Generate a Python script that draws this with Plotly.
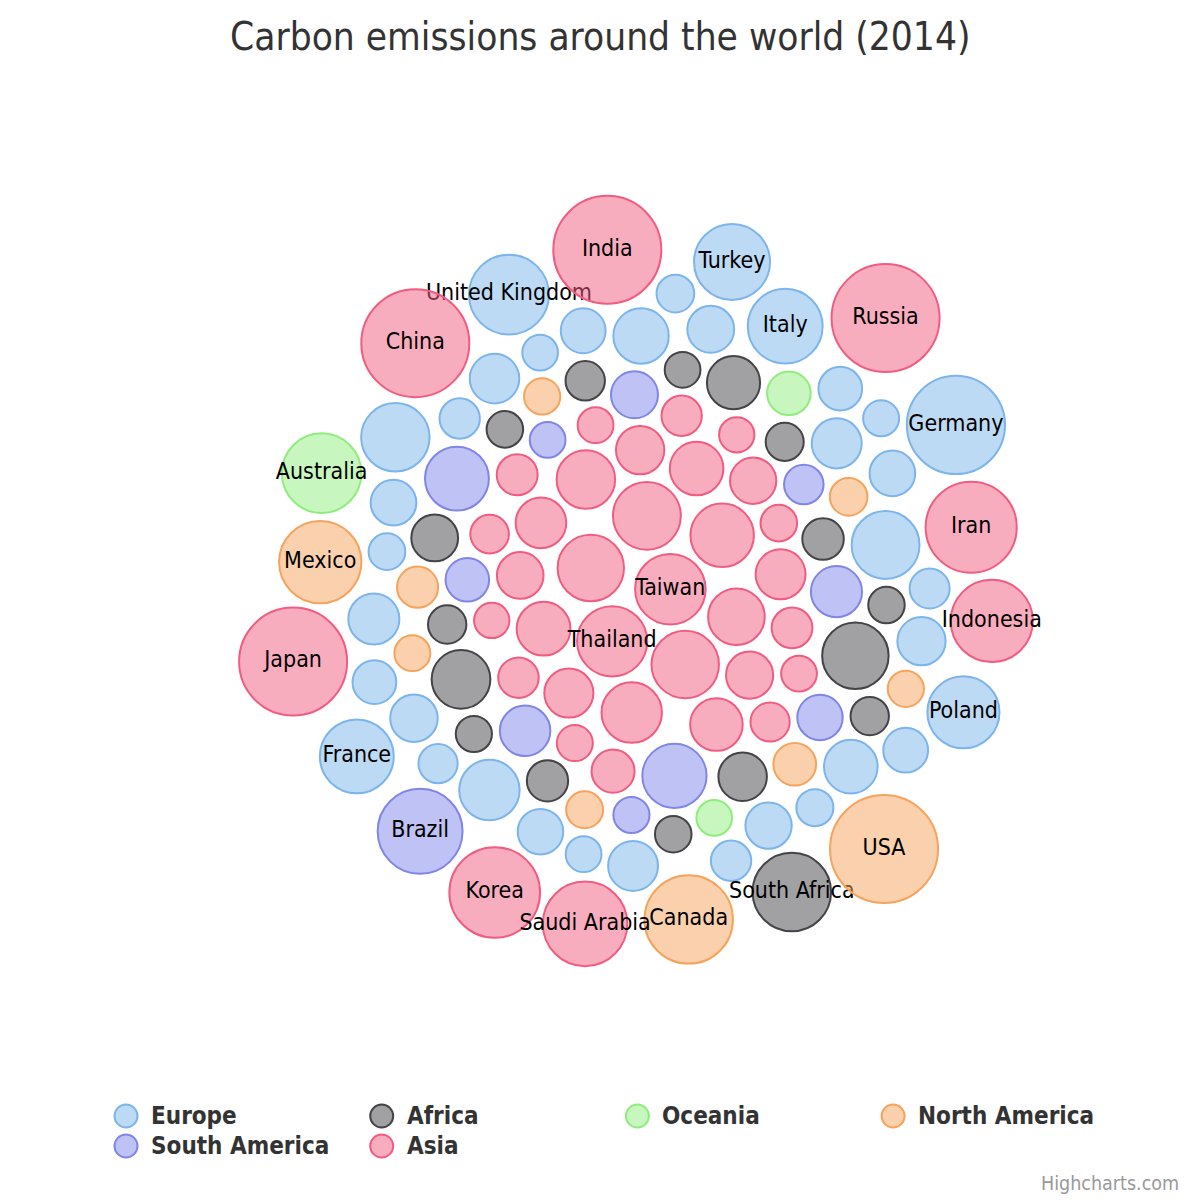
import numpy as np
import plotly.graph_objects as go

# ---------------- data ----------------
europe_names = ["Germany", "Croatia", "Belgium", "Czech Republic", "Netherlands", "Spain",
                "Ukraine", "Poland", "France", "Romania", "United Kingdom", "Turkey", "Italy",
                "Greece", "Austria", "Belarus", "Serbia", "Finland", "Bulgaria", "Portugal",
                "Norway", "Sweden", "Hungary", "Switzerland", "Denmark", "Slovakia", "Ireland",
                "Croatia", "Estonia", "Slovenia", "Lithuania", "Luxembourg", "Macedonia",
                "Moldova", "Latvia", "Cyprus"]
europe_values = [767.1, 20.7, 97.2, 111.7, 158.1, 241.6, 249.1, 298.1, 323.7, 78.3, 415.4,
                 353.2, 337.6, 71.1, 69.8, 67.7, 59.3, 54.8, 51.2, 48.3, 44.4, 44.3, 43.7,
                 40.2, 40, 34.7, 34.6, 20.7, 19.4, 16.7, 12.3, 10.4, 9.5, 7.8, 7.5, 7.2]

africa_names = ["Senegal", "Cameroon", "Zimbabwe", "Ghana", "Kenya", "Sudan", "Tunisia",
                "Angola", "Libya", "Ivory Coast", "Morocco", "Ethiopia",
                "United Republic of Tanzania", "Nigeria", "South Africa", "Egypt", "Algeria"]
africa_values = [8.2, 9.2, 13.1, 14.1, 14.1, 17.3, 24.3, 25, 50.6, 7.3, 60.7, 8.9, 9.1,
                 93.9, 392.7, 225.1, 141.5]

oceania_names = ["Australia", "New Zealand", "Papua New Guinea"]
oceania_values = [409.4, 34.1, 7.1]

north_america_names = ["Costa Rica", "Honduras", "Jamaica", "Panama", "Guatemala",
                       "Dominican Republic", "Cuba", "USA", "Canada", "Mexico"]
north_america_values = [7.6, 8.4, 8.3, 10.2, 12, 23.4, 30.2, 5334.5, 566, 456.3]

south_america_names = ["El Salvador", "Uruguay", "Bolivia", "Trinidad and Tobago", "Ecuador",
                       "Chile", "Peru", "Colombia", "Brazil", "Argentina", "Venezuela"]
south_america_values = [7.2, 8.1, 17.8, 34, 43, 78.6, 52, 74.1, 501.1, 199, 195.2]

asia_names = ["Nepal", "Georgia", "Brunei Darussalam", "Kyrgyzstan", "Afghanistan", "Myanmar",
              "Mongolia", "Sri Lanka", "Bahrain", "Yemen", "Jordan", "Lebanon", "Azerbaijan",
              "Singapore", "Hong Kong", "Syria", "DPR Korea", "Israel", "Turkmenistan", "Oman",
              "Qatar", "Philippines", "Kuwait", "Uzbekistan", "Iraq", "Pakistan", "Vietnam",
              "United Arab Emirates", "Malaysia", "Kazakhstan", "Thailand", "Taiwan",
              "Indonesia", "Saudi Arabia", "Japan", "China", "India", "Russia", "Iran", "Korea"]
asia_values = [6.5, 6.5, 7.4, 7.4, 7.9, 9.1, 14.7, 16.6, 20.5, 22.6, 22.3, 21.1, 31.7, 47.8,
               49.9, 52.7, 59.9, 64.8, 70.6, 74.3, 88.8, 96.9, 98.6, 122.6, 139.9, 158.1, 190.2,
               223.9, 236.9, 242.1, 272, 276.7, 453, 494.8, 1278.9, 10540.8, 2341.9, 1766.4,
               618.2, 610.1]

series_names = ["Europe", "Africa", "Oceania", "North America", "South America", "Asia"]
series_colors = ["#7cb5ec", "#434348", "#90ed7d", "#f7a35c", "#8085e9", "#f15c80"]
series_data = [(europe_names, europe_values), (africa_names, africa_values),
               (oceania_names, oceania_values), (north_america_names, north_america_values),
               (south_america_names, south_america_values), (asia_names, asia_values)]

# clockwise order (from the top) in which the big labelled bubbles sit around the cluster
rim_order = ["India", "Turkey", "Italy", "Russia", "Germany", "Iran", "Indonesia", "Poland",
             "USA", "South Africa", "Canada", "Saudi Arabia", "Korea", "Brazil", "France",
             "Japan", "Mexico", "Australia", "China", "United Kingdom"]
# fill order of the interior (first = centre)
inner_group_order = ["Asia", "South America", "Africa", "North America", "Oceania", "Europe"]

title_text = "Carbon emissions around the world (2014)"
credit_text = "Highcharts.com"
label_threshold = 250
z_min, z_max = 0.0, 1000.0

# ---------------- sizing (area-based, like Highcharts) ----------------
MIN_D, MAX_D = 29.0, 108.0

def diameter(v):
    p = np.clip((np.asarray(v, float) - z_min) / (z_max - z_min), 0, 1)
    return MIN_D + np.sqrt(p) * (MAX_D - MIN_D)

all_names = sum([list(nm) for nm, _ in series_data], [])
all_vals = np.concatenate([np.asarray(v, float) for _, v in series_data])
all_series = np.concatenate([[i] * len(v) for i, (_, v) in enumerate(series_data)]).astype(int)
diam = diameter(all_vals)
radii = diam / 2.0
n = len(radii)

# ---------------- packed layout (deterministic relaxation) ----------------
def initial_positions():
    pos = np.zeros((n, 2))
    rim_idx = [all_names.index(nm) for nm in rim_order]
    start_ang = np.deg2rad(-101)
    for k, idx in enumerate(rim_idx):
        a = start_ang + 2 * np.pi * k / len(rim_idx)
        pos[idx] = [345 * np.cos(a), 345 * np.sin(a)]
    inner = [i for i in range(n) if i not in rim_idx]
    grank = {series_names.index(g): r for r, g in enumerate(inner_group_order)}
    inner.sort(key=lambda i: (grank[all_series[i]], -all_vals[i]))
    golden = np.pi * (3 - np.sqrt(5))
    s = 280 / np.sqrt(len(inner))
    for k, idx in enumerate(inner):
        rr = s * np.sqrt(k + 0.5)
        pos[idx] = [rr * np.cos(k * golden), rr * np.sin(k * golden)]
    return pos

def relax(pos, r, gap=8.0, iters=1500):
    R = r[:, None] + r[None, :] + gap
    eye = np.eye(len(r))
    def collide(p):
        d = p[:, None, :] - p[None, :, :]
        dist = np.sqrt((d ** 2).sum(-1)) + eye
        ov = np.clip(R - dist, 0, None) * (1 - eye)
        return (d / dist[..., None]) * (ov / 2)[..., None], ov.max()
    for it in range(iters):
        pos -= pos.mean(0)
        pos -= pos * 0.008
        for _ in range(3):
            push, _m = collide(pos)
            pos += push.sum(1) * 0.5
    for _ in range(500):
        push, m = collide(pos)
        if m < 0.3:
            break
        pos += push.sum(1) * 0.5
    return pos

pos = relax(initial_positions(), radii)
xmin = (pos[:, 0] - radii).min(); xmax = (pos[:, 0] + radii).max()
ymin = (pos[:, 1] - radii).min(); ymax = (pos[:, 1] + radii).max()
cx, cy = 636.0, 581.0
pos[:, 0] += cx - (xmin + xmax) / 2
pos[:, 1] += cy - (ymin + ymax) / 2

def rgba(hexc, a):
    h = hexc.lstrip("#")
    return "rgba(%d,%d,%d,%.2f)" % (int(h[0:2], 16), int(h[2:4], 16), int(h[4:6], 16), a)

FONT = "DejaVu Sans Condensed, DejaVu Sans, sans-serif"

fig = go.Figure()
for i, (names, vals) in enumerate(series_data):
    sel = np.where(all_series == i)[0]
    labels = [nm if v > label_threshold else "" for nm, v in zip(names, vals)]
    fig.add_trace(go.Scatter(
        x=pos[sel, 0], y=pos[sel, 1], mode="markers+text",
        name=series_names[i],
        text=labels, textposition="middle center",
        textfont=dict(family=FONT, size=23, color="#000000"),
        customdata=np.array(vals), hovertext=names,
        hovertemplate="<b>%{hovertext}:</b> %{customdata}m CO<sub>2</sub><extra></extra>",
        marker=dict(size=diam[sel], sizemode="diameter", opacity=1,
                    color=rgba(series_colors[i], 0.5),
                    line=dict(color=series_colors[i], width=2)),
        showlegend=False, cliponaxis=False,
    ))

# ---------------- legend (4 columns) ----------------
col_w, row_h = 255.7, 30.0
lx0, ly0 = 126.0, 1116.0
leg_x = [lx0 + (j % 4) * col_w for j in range(len(series_names))]
leg_y = [ly0 + (j // 4) * row_h for j in range(len(series_names))]
fig.add_trace(go.Scatter(
    x=leg_x, y=leg_y, mode="markers", hoverinfo="skip", showlegend=False,
    marker=dict(size=23, opacity=1, color=[rgba(c, 0.5) for c in series_colors],
                line=dict(color=series_colors, width=2)),
))
annotations = []
for j, nm in enumerate(series_names):
    annotations.append(dict(x=leg_x[j] + 23, y=leg_y[j], xref="x", yref="y", text=nm,
                            showarrow=False, xanchor="left", yanchor="middle",
                            font=dict(family=FONT, size=24, color="#333333", weight="bold")))
annotations.append(dict(x=600, y=36, xref="x", yref="y", text=title_text, showarrow=False,
                        xanchor="center", yanchor="middle",
                        font=dict(family=FONT, size=38.5, color="#333333")))
annotations.append(dict(x=1181, y=1183, xref="x", yref="y", text=credit_text,
                        showarrow=False, xanchor="right", yanchor="middle",
                        font=dict(family=FONT, size=19.5, color="#999999")))

fig.update_layout(
    width=1200, height=1200,
    margin=dict(l=0, r=0, t=0, b=0, autoexpand=False),
    paper_bgcolor="#ffffff", plot_bgcolor="#ffffff",
    xaxis=dict(range=[0, 1200], visible=False, fixedrange=True),
    yaxis=dict(range=[1200, 0], visible=False, fixedrange=True),
    annotations=annotations,
    showlegend=False,
)
fig.write_html("out.html", config={"displayModeBar": False},
               post_script="document.body.style.margin='0px';")
